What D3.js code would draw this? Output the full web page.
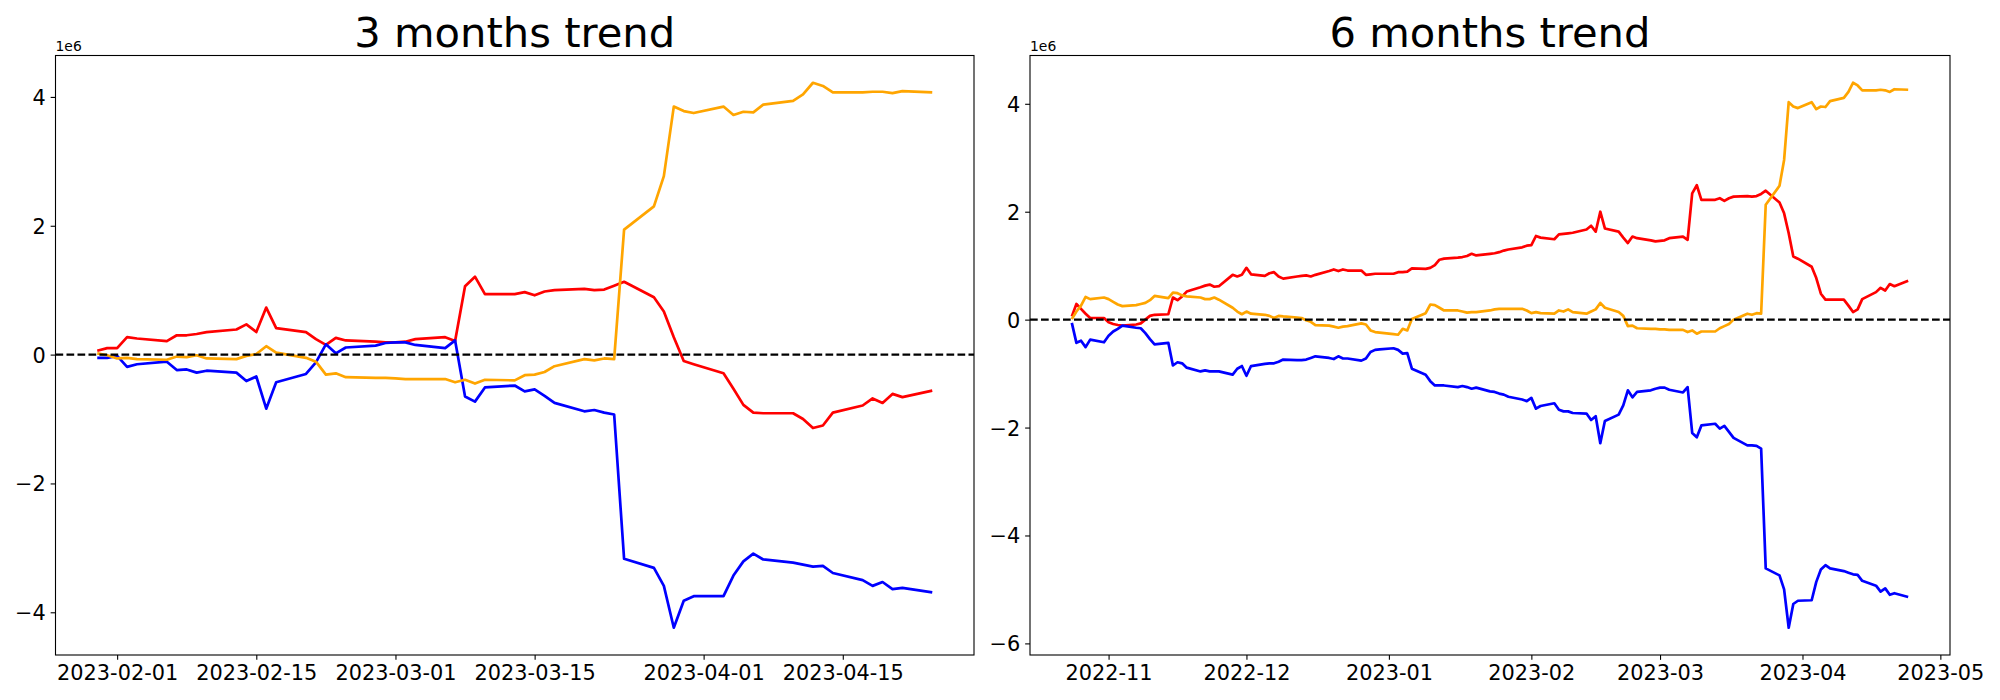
<!DOCTYPE html>
<html><head><meta charset="utf-8">
<script src="https://cdn.jsdelivr.net/npm/d3@7"></script>
<style>
body{margin:0;background:#fff}
svg{display:block;background:#fff}
text{font-family:"DejaVu Sans",sans-serif;fill:#000}
</style>
</head><body>
<svg id="chart" width="2000" height="700"></svg>
<script>
// ---------- 3 months panel data (values in millions) ----------
const dates3 = [
"2023-01-30","2023-01-31","2023-02-01","2023-02-02","2023-02-03",
"2023-02-06","2023-02-07","2023-02-08","2023-02-09","2023-02-10",
"2023-02-13","2023-02-14","2023-02-15","2023-02-16","2023-02-17",
"2023-02-20","2023-02-21","2023-02-22","2023-02-23","2023-02-24",
"2023-02-27","2023-02-28","2023-03-01","2023-03-02","2023-03-03",
"2023-03-06","2023-03-07","2023-03-08","2023-03-09","2023-03-10",
"2023-03-13","2023-03-14","2023-03-15","2023-03-16","2023-03-17",
"2023-03-20","2023-03-21","2023-03-22","2023-03-23","2023-03-24",
"2023-03-27","2023-03-28","2023-03-29","2023-03-30","2023-03-31",
"2023-04-03","2023-04-04","2023-04-05","2023-04-06","2023-04-07",
"2023-04-10","2023-04-11","2023-04-12","2023-04-13","2023-04-14",
"2023-04-17","2023-04-18","2023-04-19","2023-04-20","2023-04-21",
"2023-04-24"];
const red3 = [
0.06,0.10,0.10,0.27,0.25,
0.21,0.30,0.30,0.32,0.35,
0.39,0.47,0.35,0.73,0.41,
0.35,0.24,0.15,0.26,0.22,
0.20,0.19,0.19,0.20,0.24,
0.27,0.21,1.06,1.21,0.94,
0.94,0.97,0.92,0.98,1.00,
1.02,1.00,1.01,1.07,1.13,
0.89,0.67,0.27,-0.10,-0.15,
-0.29,-0.53,-0.78,-0.90,-0.91,
-0.91,-1.00,-1.14,-1.10,-0.90,
-0.79,-0.68,-0.75,-0.61,-0.66,
-0.56];
const blue3 = [
-0.05,-0.05,-0.02,-0.19,-0.15,
-0.11,-0.24,-0.23,-0.28,-0.25,
-0.28,-0.41,-0.34,-0.84,-0.43,
-0.30,-0.12,0.16,0.02,0.11,
0.14,0.18,0.19,0.19,0.15,
0.10,0.22,-0.65,-0.73,-0.51,
-0.48,-0.57,-0.54,-0.64,-0.75,
-0.88,-0.86,-0.90,-0.93,-3.17,
-3.31,-3.59,-4.24,-3.82,-3.75,
-3.75,-3.43,-3.21,-3.09,-3.18,
-3.23,-3.26,-3.29,-3.28,-3.39,
-3.50,-3.59,-3.53,-3.64,-3.62,
-3.69];
const orange3 = [
0.02,-0.01,-0.06,-0.05,-0.07,
-0.08,-0.03,-0.04,-0.01,-0.06,
-0.07,-0.02,0.01,0.13,0.03,
-0.05,-0.11,-0.31,-0.29,-0.35,
-0.36,-0.36,-0.37,-0.38,-0.38,
-0.38,-0.43,-0.39,-0.45,-0.39,
-0.40,-0.32,-0.31,-0.27,-0.18,
-0.07,-0.09,-0.06,-0.07,1.94,
2.30,2.77,3.85,3.78,3.75,
3.85,3.72,3.77,3.76,3.88,
3.94,4.04,4.22,4.17,4.07,
4.07,4.08,4.08,4.06,4.09,
4.07];

// ---------- 6 months panel data (values in millions) ----------
const dates6 = [
"2022-10-24","2022-10-25","2022-10-26","2022-10-27","2022-10-28",
"2022-10-31","2022-11-01","2022-11-02","2022-11-03","2022-11-04",
"2022-11-07","2022-11-08","2022-11-09","2022-11-10","2022-11-11",
"2022-11-14","2022-11-15","2022-11-16","2022-11-17","2022-11-18",
"2022-11-21","2022-11-22","2022-11-23","2022-11-24","2022-11-25",
"2022-11-28","2022-11-29","2022-11-30","2022-12-01","2022-12-02",
"2022-12-05","2022-12-06","2022-12-07","2022-12-08","2022-12-09",
"2022-12-12","2022-12-13","2022-12-14","2022-12-15","2022-12-16",
"2022-12-19","2022-12-20","2022-12-21","2022-12-22","2022-12-23",
"2022-12-26","2022-12-27","2022-12-28","2022-12-29","2022-12-30",
"2023-01-02","2023-01-03","2023-01-04","2023-01-05","2023-01-06",
"2023-01-09","2023-01-10","2023-01-11","2023-01-12","2023-01-13",
"2023-01-16","2023-01-17","2023-01-18","2023-01-19","2023-01-20",
"2023-01-23","2023-01-24","2023-01-25","2023-01-26","2023-01-27",
"2023-01-30","2023-01-31","2023-02-01","2023-02-02","2023-02-03",
"2023-02-06","2023-02-07","2023-02-08","2023-02-09","2023-02-10",
"2023-02-13","2023-02-14","2023-02-15","2023-02-16","2023-02-17",
"2023-02-20","2023-02-21","2023-02-22","2023-02-23","2023-02-24",
"2023-02-27","2023-02-28","2023-03-01","2023-03-02","2023-03-03",
"2023-03-06","2023-03-07","2023-03-08","2023-03-09","2023-03-10",
"2023-03-13","2023-03-14","2023-03-15","2023-03-16","2023-03-17",
"2023-03-20","2023-03-21","2023-03-22","2023-03-23","2023-03-24",
"2023-03-27","2023-03-28","2023-03-29","2023-03-30","2023-03-31",
"2023-04-03","2023-04-04","2023-04-05","2023-04-06","2023-04-07",
"2023-04-10","2023-04-11","2023-04-12","2023-04-13","2023-04-14",
"2023-04-17","2023-04-18","2023-04-19","2023-04-20","2023-04-21",
"2023-04-24"];
const red6 = [
0.06,0.29,0.20,0.11,0.03,
0.03,-0.05,-0.08,-0.10,-0.11,
-0.09,-0.07,0.00,0.07,0.09,
0.10,0.41,0.36,0.43,0.52,
0.60,0.63,0.65,0.61,0.62,
0.83,0.80,0.83,0.96,0.84,
0.81,0.86,0.88,0.80,0.76,
0.80,0.81,0.82,0.80,0.83,
0.90,0.93,0.90,0.93,0.91,
0.91,0.83,0.84,0.85,0.85,
0.85,0.88,0.88,0.89,0.95,
0.94,0.96,1.01,1.11,1.13,
1.15,1.16,1.18,1.22,1.19,
1.22,1.23,1.25,1.28,1.30,
1.34,1.37,1.38,1.55,1.52,
1.49,1.58,1.59,1.60,1.61,
1.67,1.74,1.63,2.00,1.69,
1.63,1.52,1.42,1.54,1.51,
1.47,1.45,1.46,1.47,1.51,
1.54,1.48,2.34,2.49,2.22,
2.22,2.25,2.20,2.25,2.28,
2.29,2.28,2.29,2.33,2.39,
2.17,1.97,1.60,1.17,1.13,
0.98,0.77,0.48,0.37,0.37,
0.37,0.26,0.14,0.19,0.38,
0.51,0.59,0.54,0.66,0.62,
0.72];
const blue6 = [
-0.06,-0.43,-0.39,-0.51,-0.37,
-0.42,-0.30,-0.22,-0.17,-0.11,
-0.15,-0.16,-0.25,-0.36,-0.46,
-0.43,-0.85,-0.79,-0.81,-0.89,
-0.96,-0.94,-0.96,-0.96,-0.96,
-1.02,-0.91,-0.86,-1.04,-0.86,
-0.82,-0.81,-0.81,-0.78,-0.74,
-0.75,-0.75,-0.74,-0.71,-0.68,
-0.71,-0.73,-0.68,-0.72,-0.72,
-0.76,-0.72,-0.60,-0.56,-0.55,
-0.53,-0.56,-0.63,-0.62,-0.91,
-1.02,-1.14,-1.22,-1.22,-1.22,
-1.25,-1.23,-1.25,-1.28,-1.26,
-1.33,-1.34,-1.37,-1.39,-1.43,
-1.48,-1.51,-1.45,-1.65,-1.60,
-1.55,-1.67,-1.70,-1.70,-1.73,
-1.74,-1.86,-1.79,-2.29,-1.88,
-1.76,-1.59,-1.31,-1.44,-1.34,
-1.31,-1.28,-1.26,-1.26,-1.30,
-1.35,-1.25,-2.10,-2.18,-1.96,
-1.93,-2.02,-1.97,-2.08,-2.19,
-2.33,-2.33,-2.34,-2.39,-4.61,
-4.74,-5.00,-5.71,-5.27,-5.21,
-5.20,-4.86,-4.63,-4.55,-4.61,
-4.66,-4.69,-4.72,-4.73,-4.84,
-4.93,-5.04,-4.98,-5.10,-5.07,
-5.14];
const orange6 = [
0.01,0.15,0.26,0.42,0.38,
0.41,0.38,0.33,0.28,0.25,
0.27,0.29,0.31,0.36,0.44,
0.40,0.50,0.49,0.45,0.43,
0.41,0.38,0.38,0.41,0.37,
0.22,0.15,0.10,0.15,0.11,
0.09,0.07,0.03,0.07,0.06,
0.04,0.03,-0.01,-0.04,-0.10,
-0.11,-0.13,-0.15,-0.13,-0.12,
-0.07,-0.09,-0.20,-0.23,-0.24,
-0.27,-0.28,-0.17,-0.20,0.01,
0.12,0.28,0.27,0.22,0.17,
0.17,0.15,0.13,0.14,0.14,
0.17,0.19,0.20,0.20,0.20,
0.20,0.17,0.12,0.14,0.12,
0.11,0.17,0.15,0.19,0.14,
0.11,0.15,0.19,0.31,0.22,
0.14,0.07,-0.12,-0.11,-0.16,
-0.17,-0.17,-0.18,-0.18,-0.19,
-0.19,-0.23,-0.20,-0.26,-0.22,
-0.22,-0.16,-0.12,-0.08,0.00,
0.11,0.09,0.12,0.11,2.13,
2.48,2.96,4.03,3.95,3.92,
4.03,3.90,3.95,3.94,4.05,
4.11,4.22,4.39,4.34,4.25,
4.25,4.26,4.25,4.22,4.27,
4.26];

// ---------- ticks and labels ----------
const xTicks3 = ["2023-02-01","2023-02-15","2023-03-01","2023-03-15","2023-04-01","2023-04-15"];
const xTicks6 = ["2022-11-01","2022-12-01","2023-01-01","2023-02-01","2023-03-01","2023-04-01","2023-05-01"];
const yTicks3 = [-4,-2,0,2,4];
const yTicks6 = [-6,-4,-2,0,2,4];
const titles = ["3 months trend","6 months trend"];
const offsetLabel = "1e6";
const colorRed = "red", colorBlue = "blue", colorOrange = "orange";

const svg = d3.select("#chart");
svg.append("rect").attr("width",2000).attr("height",700).attr("fill","#fff");
const parse = d3.utcParse("%Y-%m-%d");

function drawPanel(cfg){
  const {left,right,top,bottom,dates,series,xticks,xfmt,yticks,title} = cfg;
  const g = svg.append("g");
  const ds = dates.map(parse);
  const [t0,t1] = d3.extent(ds);
  const tp = (t1 - t0) * 0.05;
  const x = d3.scaleUtc().domain([new Date(+t0 - tp), new Date(+t1 + tp)]).range([left,right]);
  const all = series.flatMap(s => s.values);
  const [v0,v1] = d3.extent(all);
  const vp = (v1 - v0) * 0.05;
  const y = d3.scaleLinear().domain([v0 - vp, v1 + vp]).range([bottom, top]);

  const line = d3.line().x(d => x(d[0])).y(d => y(d[1]));
  series.forEach(s => {
    g.append("path")
      .datum(s.values.map((v,i) => [ds[i], v]))
      .attr("d", line)
      .attr("fill","none")
      .attr("stroke", s.color)
      .attr("stroke-width", 2.7)
      .attr("stroke-linejoin","round");
  });

  g.append("line")
    .attr("x1", left).attr("x2", right)
    .attr("y1", y(0)).attr("y2", y(0))
    .attr("stroke","#000").attr("stroke-width",2.08)
    .attr("stroke-dasharray","7.7,3.3");

  // x axis
  const xa = g.append("g").attr("transform",`translate(0,${bottom})`)
    .call(d3.axisBottom(x).tickValues(xticks.map(parse)).tickFormat(d3.utcFormat(xfmt))
      .tickSize(4.86).tickPadding(4.86));
  xa.select(".domain").remove();
  xa.selectAll("line").attr("stroke","#000").attr("stroke-width",1.1);
  xa.selectAll("text").attr("dy",null).attr("y",25).attr("font-size","20.83px")
    .attr("font-family","DejaVu Sans").attr("fill","#000");

  // y axis
  const ya = g.append("g").attr("transform",`translate(${left},0)`)
    .call(d3.axisLeft(y).tickValues(yticks)
      .tickFormat(d => (d < 0 ? "\u2212" : "") + Math.abs(d))
      .tickSize(4.86).tickPadding(4.86));
  ya.select(".domain").remove();
  ya.selectAll("line").attr("stroke","#000").attr("stroke-width",1.1);
  ya.selectAll("text").attr("dy","0.36em").attr("font-size","20.83px")
    .attr("font-family","DejaVu Sans").attr("fill","#000");

  // frame
  g.append("rect").attr("x",left).attr("y",top)
    .attr("width",right-left).attr("height",bottom-top)
    .attr("fill","none").attr("stroke","#000").attr("stroke-width",1.1);

  g.append("text").attr("x",left).attr("y",top-4.5)
    .attr("font-size","13.9px").text(offsetLabel);

  g.append("text").attr("x",(left+right)/2).attr("y",top-8.3)
    .attr("text-anchor","middle").attr("font-size","41.67px").text(title);
}

drawPanel({left:55.5,right:974,top:55.5,bottom:655,dates:dates3,
  series:[{values:red3,color:colorRed},{values:blue3,color:colorBlue},{values:orange3,color:colorOrange}],
  xticks:xTicks3,xfmt:"%Y-%m-%d",yticks:yTicks3,title:titles[0]});
drawPanel({left:1030,right:1950,top:55.5,bottom:655,dates:dates6,
  series:[{values:red6,color:colorRed},{values:blue6,color:colorBlue},{values:orange6,color:colorOrange}],
  xticks:xTicks6,xfmt:"%Y-%m",yticks:yTicks6,title:titles[1]});
</script>
</body></html>
